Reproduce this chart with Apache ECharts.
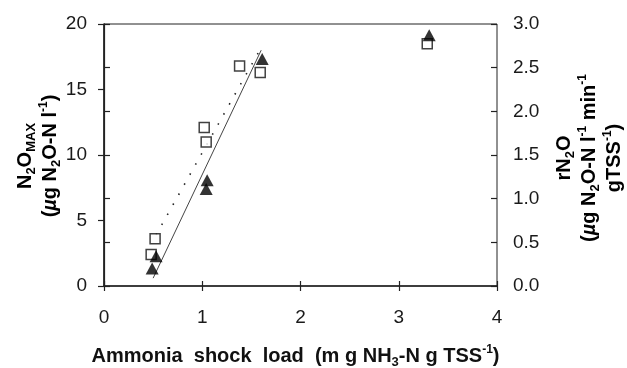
<!DOCTYPE html>
<html>
<head>
<meta charset="utf-8">
<script src="https://cdn.jsdelivr.net/npm/echarts@6/dist/echarts.min.js"></script>
<style>
  html, body { margin: 0; padding: 0; background: #fff; }
  #chart { width: 627px; height: 368px; }
</style>
</head>
<body>
<div id="chart"></div>
<script>
// N2O max (left axis) - open squares
const squareX = [0.48, 0.52, 1.02, 1.04, 1.38, 1.59, 3.29]
const squareY = [2.4, 3.6, 12.1, 11.0, 16.8, 16.3, 18.5]
// rN2O (right axis) - filled triangles
const triangleX = [0.49, 0.53, 1.05, 1.04, 1.61, 3.31]
const triangleY = [0.20, 0.34, 1.21, 1.11, 2.60, 2.87]
// trend lines (end points)
const dottedFitX = [0.53, 1.60]
const dottedFitY = [3.9, 18.2]
const solidFitX = [0.50, 1.60]
const solidFitY = [0.09, 2.70]

const pairs = (xs, ys) => xs.map((x, i) => [x, ys[i]])

const font = 'Liberation Sans, Arial, sans-serif'
const txt = '#1a1a1a'
const nameRich = {
  b: { fontFamily: font, fontSize: 20, fontWeight: 'bold', color: '#111', lineHeight: 25 },
  bi: { fontFamily: font, fontSize: 20, fontWeight: 'bold', fontStyle: 'italic', color: '#111', lineHeight: 25 },
  bs: { fontFamily: font, fontSize: 13, fontWeight: 'bold', color: '#111', lineHeight: 14, verticalAlign: 'bottom' },
  bp: { fontFamily: font, fontSize: 12, fontWeight: 'bold', color: '#111', lineHeight: 14, verticalAlign: 'top' }
}

const chart = echarts.init(document.getElementById('chart'))
chart.setOption({
  animation: false,
  backgroundColor: '#fff',
  grid: {
    left: 104, top: 24, width: 393, height: 262,
    outerBoundsMode: 'none', containLabel: false,
    show: true, borderColor: '#222', borderWidth: 1, backgroundColor: 'transparent'
  },
  xAxis: [
    {
      type: 'value', min: 0, max: 4, interval: 1, position: 'bottom',
      axisLine: { lineStyle: { color: '#222', width: 1.5 } },
      axisTick: { inside: false, length: 5, lineStyle: { color: '#222', width: 1.2 } },
      axisLabel: { margin: 22, fontFamily: font, fontSize: 19, color: txt },
      splitLine: { show: false },
      name: '{b|Ammonia  shock  load  (m g NH}{bs|3}{b|-N g TSS}{bp|-1}{b|)}',
      nameLocation: 'middle', nameGap: 58,
      nameTextStyle: { rich: nameRich, padding: [0, 10, 0, 0] }
    },
    {
      type: 'value', min: 0, max: 4, interval: 1, position: 'bottom',
      axisLine: { show: false },
      axisTick: { inside: true, length: 5, lineStyle: { color: '#222', width: 1.2 } },
      axisLabel: { show: false },
      splitLine: { show: false }
    }
  ],
  yAxis: [
    {
      type: 'value', min: 0, max: 20, interval: 5, position: 'left',
      axisLine: { show: true, lineStyle: { color: '#222', width: 1.5 } },
      axisTick: { show: true, length: 6, lineStyle: { color: '#222', width: 1.2 } },
      axisLabel: { margin: 17, fontFamily: font, fontSize: 19, color: txt },
      splitLine: { show: false }
    },
    {
      type: 'value', min: 0, max: 3, interval: 0.5, position: 'right',
      axisLine: { show: true, lineStyle: { color: '#222', width: 1.2 } },
      axisTick: { show: true, length: 6, lineStyle: { color: '#222', width: 1.2 } },
      axisLabel: { margin: 16, fontFamily: font, fontSize: 19, color: txt, formatter: v => v.toFixed(1) },
      splitLine: { show: false }
    },
    {
      type: 'value', min: 0, max: 3, interval: 0.5, position: 'right',
      axisLine: { show: false },
      axisTick: { show: true, inside: true, length: 6, lineStyle: { color: '#222', width: 1.2 } },
      axisLabel: { show: false },
      splitLine: { show: false }
    }
  ],
  graphic: [
    {
      type: 'text', x: 38, y: 156, rotation: Math.PI / 2,
      style: {
        text: '{b|N}{bs|2}{b|O}{bs|MAX}\n{b|(}{bi|µ}{b|g N}{bs|2}{b|O-N l}{bp|-1}{b|)}',
        rich: nameRich, align: 'center', verticalAlign: 'middle'
      }
    },
    {
      type: 'text', x: 589, y: 158, rotation: Math.PI / 2,
      style: {
        text: '{b|rN}{bs|2}{b|O}\n{b|(}{bi|µ}{b|g N}{bs|2}{b|O-N l}{bp|-1}{b| min}{bp|-1}\n{b|gTSS}{bp|-1}{b|)}',
        rich: nameRich, align: 'center', verticalAlign: 'middle'
      }
    }
  ],
  series: [
    {
      type: 'line', xAxisIndex: 0, yAxisIndex: 0, data: pairs(dottedFitX, dottedFitY),
      symbol: 'none', lineStyle: { color: '#222', width: 1.6, type: [1.5, 10] }, z: 2
    },
    {
      type: 'line', xAxisIndex: 0, yAxisIndex: 1, data: pairs(solidFitX, solidFitY),
      symbol: 'none', lineStyle: { color: '#444', width: 1 }, z: 2
    },
    {
      type: 'scatter', xAxisIndex: 0, yAxisIndex: 0, data: pairs(squareX, squareY),
      symbol: 'rect', symbolSize: 10,
      itemStyle: { color: '#fff', borderColor: '#111', borderWidth: 1.5 }, z: 3
    },
    {
      type: 'scatter', xAxisIndex: 0, yAxisIndex: 1, data: pairs(triangleX, triangleY),
      symbol: 'triangle', symbolSize: [13, 12],
      itemStyle: { color: '#000' }, z: 4
    }
  ]
})
</script>
</body>
</html>
